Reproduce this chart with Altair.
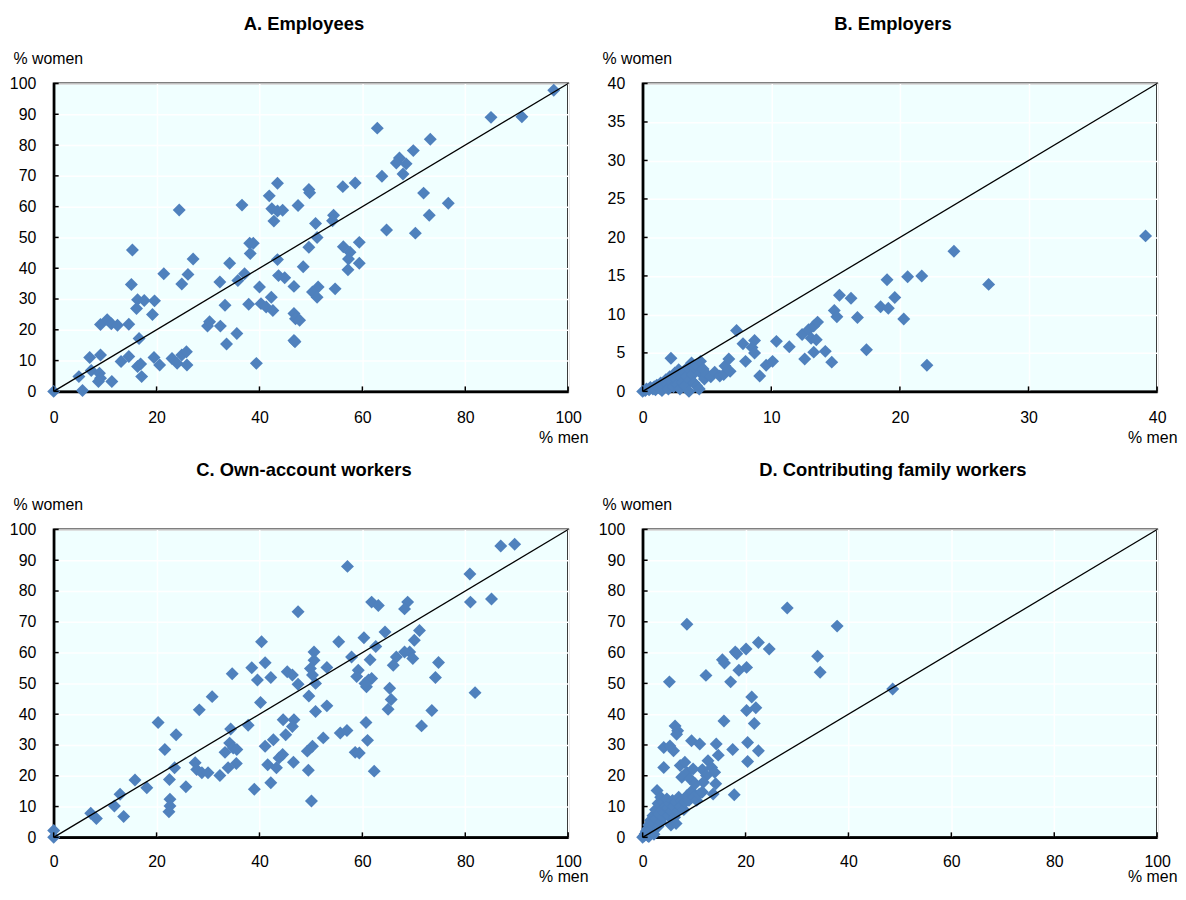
import altair as alt
import pandas as pd

BLUE = "#4F81BD"
FONT = "Liberation Sans"

# ---------------- Panel A: Employees ----------------
A_MEN = [0, 5.6, 4.9, 7, 7.3, 9.1, 8.9, 9.1, 8.7, 11.3, 9.1, 10.4, 11.2, 12.4, 14.6, 13.1, 14.6,
         15.3, 15.1, 16.3, 17.6, 16.1, 16.6, 16.3, 16.9, 17.1, 19.6, 19.2, 21.4, 19.5, 20.6, 23, 24,
         24.9, 25.8, 25.9, 24.9, 26.1, 27.1, 29.9, 30.3, 32.3, 32.4, 33.3, 33.6, 34.2, 35.6, 35.8,
         37.1, 37.9, 38.1, 38.8, 38.2, 39.4, 40, 40.3, 41.3, 42.3, 42.6, 43.5, 43.7, 44.9, 46.7,
         46.7, 47, 46.7, 48.5, 24.4, 36.6, 43.5, 41.9, 42.4, 44.5, 43.5, 42.8, 47.5, 49.6, 49.75,
         56.2, 58.6, 63.8, 67.2, 66.6, 68.5, 67.9, 69.9, 73.2, 62.9, 85, 91, 97.2, 71.9, 76.7, 73,
         50.9, 54.4, 54.2, 51.2, 64.7, 70.3, 49.6, 56.3, 59.4, 57.6, 57.3, 59.4, 57.2, 51.4, 50.3,
         51.2, 54.7, 46.9, 47.8]
A_WOMEN = [0, 0.3, 4.8, 11, 6.8, 11.8, 5.9, 4.3, 3.2, 3.2, 21.7, 23.3, 22, 21.5, 21.8, 9.7, 11.3,
           45.9, 34.7, 29.8, 29.5, 26.9, 17.2, 8.1, 8.9, 4.8, 29.4, 25, 38.2, 11, 8.6, 10.7, 9.1,
           11.8, 12.9, 8.6, 34.9, 38, 43, 21.2, 22.6, 35.5, 21.2, 28, 15.4, 41.6, 18.8, 36,
           38.2, 28.3, 48.1, 48.1, 44.8, 9.1, 33.9, 28.5, 27.4, 30.6, 26.3, 42.8, 37.6, 36.9, 34.1,
           25.3, 23.6, 16.5, 40.5, 58.9, 60.5, 67.6, 63.5, 59.3, 58.8, 58.6, 55.3, 60.4, 65.6, 64.5,
           66.5, 67.7, 69.9, 75.8, 74.2, 73.9, 70.6, 78.2, 81.9, 85.5, 89, 89.2, 97.8, 64.4, 61.1, 57.2,
           54.5, 57.2, 55.4, 50, 52.4, 51.4, 46.8, 47, 48.4, 45.2, 43, 41.6, 39.5, 33.9, 32.3,
           30.6, 33.3, 16.1, 23.1]

# ---------------- Panel B: Employers ----------------
B_MEN = [0, 0.2, 0.3, 0.5, 0.6, 0.8, 0.9, 1, 1.1, 1.3, 1.4, 1.5, 1.6, 1.8, 1.9, 2, 2.1, 2.2, 2.3,
         2.4, 2.5, 2.6, 2.7, 2.8, 2.9, 3, 3.1, 3.2, 3.3, 3.4, 3.5, 3.6, 3.7, 3.8, 3.9, 4, 4, 4.2,
         4.2, 4.4, 4.5, 4.5, 4.7, 4.8, 5, 5.3, 5.6, 6, 6.3, 6.4, 6.7, 6.8,
         7.3, 7.8, 8.7, 8.5, 8.7, 8, 9.1, 9.6, 10.1, 10.4, 11.4, 12.6, 12.4, 12.9, 13.3, 13.6,
         13.1, 13.5, 13.3, 14.2, 14.7, 14.9, 15.1, 15.3, 16.2, 16.7, 17.4, 18.5, 19.1, 19, 19.6,
         20.6, 21.7, 20.3, 22.1, 24.2, 26.9, 39.1]
B_WOMEN = [0, 0.1, 0.3, 0.2, 0.5, 0.3, 0.6, 0.2, 0.8, 0.4, 1.1, 0.1, 0.6, 1.5, 0.9, 0.3, 1.9, 4.3, 1.2,
           0.6, 2.4, 1.6, 0.9, 2.8, 0.3, 1.8, 1.2, 2.6, 0.7, 1.9, 3.1, 0, 1.5, 3.7, 2.2, 1.1, 3.1, 0.7,
           3.3, 0.3, 2.4, 3.9, 2.9, 1.6, 2.2, 1.9, 2.5, 2, 2.2, 3.3, 4.2, 2.6,
           7.9, 6.2, 6.6, 5.7, 5, 3.9, 2, 3.4, 3.9, 6.5, 5.8, 4.2, 7.4, 8, 8.5, 9,
           6.9, 6.7, 5.1, 5.2, 3.8, 10.5, 9.7, 12.5, 12.1, 9.6, 5.4, 11, 10.8, 14.5, 12.2,
           14.9, 15, 9.4, 3.4, 18.2, 13.9, 20.2]

# ---------------- Panel C: Own-account workers ----------------
C_MEN = [0, 0, 7.2, 8.3, 11.8, 12.9, 13.6, 15.8, 18.1, 20.3, 21.6, 22.5, 22.6, 22.6, 22.4, 23.5, 23.8,
         25.7, 27.5, 27.8, 28.8, 30, 28.3, 30.8, 32.3, 33.3, 34.4, 34.2, 34.9, 35.6, 33.9, 35.5, 37.8,
         34.7, 38.5, 40.4, 41.1, 39.6, 42.2, 40.2, 39, 41.1, 41.6, 42.2, 42.7, 43.3, 43.8, 44.5, 44.6,
         45.1, 46.7, 46.4, 46.6, 45.4, 46.4, 47.5, 47.5, 49.5, 50.1, 49.3, 50.3, 52.4, 55.7, 57, 58.6,
         59.4, 60.7, 61, 62.3, 65, 65.6, 71.5, 73.5, 81.9, 86.9, 89.6, 80.9, 81, 85.1, 57.1, 61.8, 63.1,
         68.8, 68.2, 64.4, 71.1, 70.1, 55.4, 60.3, 62.6, 69.2, 68.2, 69.8, 74.8, 74.2, 66.6, 66, 61.5,
         57.9, 59.2, 58.9, 61.2, 61.8, 60.8, 60.5, 65.3, 53.1, 50.6, 50.6, 49.9, 50.3, 50.9, 49.6,
         53.1, 50.9]
C_WOMEN = [0, 2.2, 7.8, 6.1, 10.2, 14, 6.8, 18.6, 16.1, 37.3, 28.5, 18.8, 12.4, 10.2, 8.3, 22.6, 33.3,
           16.4, 24.2, 22, 21, 21, 41.4, 45.7, 20.1, 27.6, 35.2, 30.6, 29, 28.5, 22.6, 24, 36.4,
           53.1, 55.1, 63.5, 56.7, 51.1, 51.9, 43.8, 15.6, 29.6, 23.6, 17.7, 31.7, 22.6, 25.8, 26.9, 38.2,
           33.3, 38.2, 36, 24.4, 53.8, 52.7, 73.3, 49.7, 21.8, 11.8, 28, 29.6, 32.3, 33.9, 34.7, 27.6,
           27.4, 37.3, 31.5, 21.5, 41.6, 44.8, 36.2, 41.2, 47, 94.6, 95.2, 85.5, 76.4, 77.4, 88, 76.4, 75.3,
           76.4, 74.2, 66.7, 67.2, 64, 63.5, 64.8, 62, 60.2, 60.2, 58.1, 56.8, 51.9, 58.6, 55.9, 57.7,
           58.6, 54.3, 52.2, 51.1, 51.6, 48.9, 50, 48.4, 55.2, 60.2, 57.5, 54.8, 52.7, 50, 45.9,
           42.7, 40.9]

# ---------------- Panel D: Contributing family workers ----------------
D_MEN = [0, 0.3, 0.5, 0.7, 1, 1, 1.2, 1.5, 1.5, 1.8, 2, 2, 2.3, 2.5, 2.6, 2.8, 3, 3, 3.2, 3.5, 3.5,
         3.8, 4, 4, 4.2, 4.5, 4.7, 5, 5, 5.3, 5.5, 5.6, 5.8, 6, 6.2, 6.5, 6.5, 6.8, 7, 7.3, 7.6, 8,
         8.3, 8.6, 9, 9.5, 10, 10.5, 11, 1.2, 2.2, 0.8,
         8.6, 28.1, 37.8, 5.2, 12.3, 15.5, 15.9, 18, 18.3, 20.1, 22.5, 24.6, 17.1, 18.7, 20.2, 34, 34.5,
         21.2, 22, 20.2, 21.7, 15.8, 6.3, 6.8, 48.6, 20.4, 22.5, 20.4, 17.8, 17.5, 14.3, 14.7, 12.7,
         13.4, 14, 14.2, 11.6, 13.7, 11.6, 12.4, 11.8, 9.5, 11.1, 6.6, 6, 4.1, 5.3, 4.1, 7.3, 8.2, 8.6,
         7.6, 9.2, 9.8, 10.2]
D_WOMEN = [0, 0.5, 1.2, 2, 0.5, 2.8, 4, 1.5, 5.5, 3, 7, 2, 4.5, 9, 6, 15.2, 3.5, 11, 7.5, 5, 13,
           9, 6.5, 11.5, 8, 10, 12.5, 7, 9.5, 11, 4, 8.5, 12, 10, 6.5, 11.5, 4.5, 8.5, 13, 10, 12, 9,
           11.5, 13.5, 12, 15, 13, 12, 14, 0.3, 1, 1.5,
           69.2, 74.5, 68.6, 50.5, 52.6, 57.7, 56.6, 60.2, 59.6, 61.2, 63.3, 61.2, 50.5, 54.3, 55.2, 58.8, 53.6,
           45.6, 42.1, 41.2, 37, 37.8, 36.2, 34.6, 48.2, 30.8, 28.1, 24.6, 13.8, 28.5, 30.3, 26.7, 24.9,
           22.7, 21.1, 17.4, 14.7, 14.1, 22, 20.1, 17.9, 31.4, 30.3, 33.5, 28.1, 29.2, 29.7, 22.7, 23.3, 24.4, 21.1,
           19.5, 19, 22.2, 17.4]

TICKS_100 = [0, 10, 20, 30, 40, 50, 60, 70, 80, 90, 100]
XTICKS_100 = [0, 20, 40, 60, 80, 100]
TICKS_40 = [0, 5, 10, 15, 20, 25, 30, 35, 40]
XTICKS_40 = [0, 10, 20, 30, 40]

W, H = 518, 310


def panel(title, men, women, dmax, yticks, xticks, xtitle_y, xlabel_pad):
    df = pd.DataFrame({"x": men, "y": women})
    xs = alt.Scale(domain=[0, dmax], nice=False, zero=True)
    ys = alt.Scale(domain=[0, dmax], nice=False, zero=True)

    def x_axis():
        return alt.Axis(values=xticks, title="% men", titleX=W + 20, titleY=xtitle_y,
                        titleAlign="right", titleBaseline="middle", labelPadding=xlabel_pad,
                        labelFlush=False, labelOverlap=False)

    def y_axis():
        return alt.Axis(values=yticks, title="% women", titleAngle=0, titleX=-41, titleY=-25,
                        titleAlign="left", titleBaseline="middle", labelPadding=18,
                        labelFlush=False, labelOverlap=False)

    pts = alt.Chart(df).mark_point(shape="diamond", filled=True, size=170, color=BLUE,
                                   opacity=1).encode(
        x=alt.X("x:Q", scale=xs, axis=x_axis()),
        y=alt.Y("y:Q", scale=ys, axis=y_axis()),
    )
    diag = alt.Chart(pd.DataFrame({"x": [0, dmax], "y": [0, dmax]})).mark_line(
        color="black", strokeWidth=1.3).encode(
        x=alt.X("x:Q", scale=xs, axis=x_axis()), y=alt.Y("y:Q", scale=ys, axis=y_axis()))
    xt = alt.Chart(pd.DataFrame({"x": xticks})).mark_rule(color="black", strokeWidth=1.5).encode(
        x=alt.X("x:Q", scale=xs, axis=x_axis()), y=alt.value(H), y2=alt.value(H - 5))
    yt = alt.Chart(pd.DataFrame({"y": yticks})).mark_rule(color="black", strokeWidth=1.5).encode(
        y=alt.Y("y:Q", scale=ys, axis=y_axis()), x=alt.value(0), x2=alt.value(5))
    return alt.layer(pts, diag, xt, yt).properties(
        width=W, height=H,
        title=alt.TitleParams(title, font=FONT, fontSize=18.5, fontWeight="bold", color="black",
                              anchor="middle", offset=17, dx=-7))


pA = panel("A. Employees", A_MEN, A_WOMEN, 100, TICKS_100, XTICKS_100, 46, 18)
pB = panel("B. Employers", B_MEN, B_WOMEN, 40, TICKS_40, XTICKS_40, 46, 18)
pC = panel("C. Own-account workers", C_MEN, C_WOMEN, 100, TICKS_100, XTICKS_100, 39, 16)
pD = panel("D. Contributing family workers", D_MEN, D_WOMEN, 100, TICKS_100, XTICKS_100, 39, 16)

chart = alt.concat(pA, pB, pC, pD, columns=2, spacing={"row": 139, "column": 75},
                   bounds="flush").properties(
    padding={"left": 0, "top": 3, "right": 0, "bottom": 0},
    background="white",
).configure_view(
    fill="#F0FFFF", stroke="black", strokeWidth=2
).configure_axis(
    labelFont=FONT, labelFontSize=16, labelColor="black", labelOverlap=False,
    titleFont=FONT, titleFontSize=16, titleFontWeight="normal", titleColor="black",
    gridColor="white", gridWidth=1.5, gridOpacity=1,
    domainColor="black", domainWidth=2.5, ticks=False, tickSize=0,
)

chart.save("out.html", embed_options={"renderer": "svg", "actions": False})
